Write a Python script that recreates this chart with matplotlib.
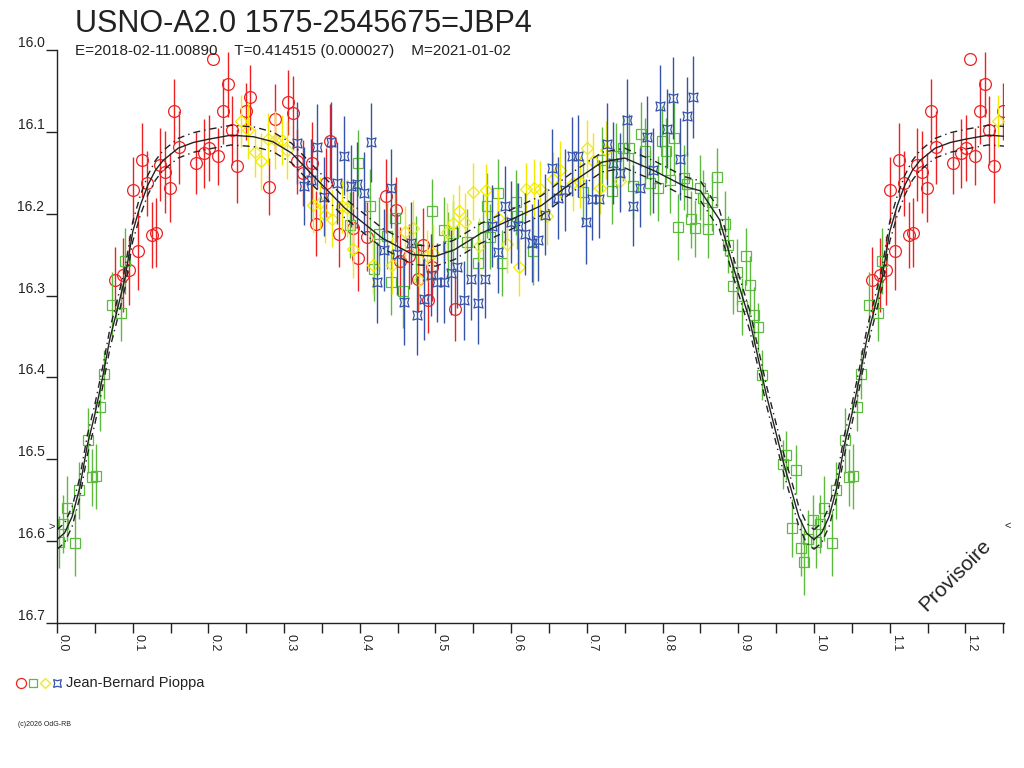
import numpy as np
import matplotlib
matplotlib.use("Agg")
import matplotlib.pyplot as plt
from matplotlib.path import Path
from matplotlib.lines import Line2D

plt.rcParams['font.family'] = ['Liberation Sans', 'DejaVu Sans']

# --- data (phase, magnitude, error) ---
red_phase = [0.0766, 0.0876, 0.0955, 0.1066, 0.1008, 0.1123, 0.1185, 0.1250, 0.1308, 0.1360,
             0.1427, 0.1490, 0.1550, 0.1616, 0.1832, 0.1942, 0.2008, 0.2131, 0.2065, 0.2189,
             0.2255, 0.2308, 0.2374, 0.2493, 0.2550, 0.2805, 0.2880, 0.3056, 0.3122, 0.3166,
             0.3245, 0.3364, 0.3421, 0.3553, 0.3606, 0.3730, 0.3905, 0.3972, 0.4099, 0.4346,
             0.4474, 0.4531, 0.4650, 0.4773, 0.4840, 0.4896, 0.4958, 0.5258]
red_mag = [16.281, 16.275, 16.269, 16.245, 16.171, 16.134, 16.163, 16.226, 16.223, 16.140,
           16.149, 16.168, 16.075, 16.119, 16.138, 16.126, 16.120, 16.130, 16.011, 16.075,
           16.042, 16.098, 16.142, 16.075, 16.058, 16.167, 16.084, 16.064, 16.077, 16.136,
           16.150, 16.138, 16.212, 16.162, 16.111, 16.225, 16.217, 16.254, 16.228, 16.178,
           16.195, 16.258, 16.252, 16.280, 16.238, 16.306, 16.265, 16.316]
red_err = [0.040, 0.045, 0.042, 0.048, 0.040, 0.045, 0.040, 0.040, 0.042, 0.045,
           0.050, 0.042, 0.040, 0.045, 0.038, 0.042, 0.040, 0.035, 0.000, 0.040,
           0.040, 0.042, 0.045, 0.035, 0.040, 0.035, 0.042, 0.040, 0.045, 0.040,
           0.040, 0.050, 0.040, 0.042, 0.045, 0.040, 0.045, 0.040, 0.042, 0.045,
           0.040, 0.042, 0.040, 0.040, 0.045, 0.040, 0.042, 0.040]

green_phase = [0.0030, 0.0075, 0.0128, 0.0238, 0.0290, 0.0405, 0.0458, 0.0511, 0.0568, 0.0620,
               0.0731, 0.0841, 0.0898, 0.3970, 0.4135, 0.3870, 0.4465, 0.4958, 0.4258, 0.4364,
               0.4742, 0.4188, 0.4412, 0.4575, 0.5116, 0.5235, 0.5170, 0.5412, 0.5566, 0.5632,
               0.5676, 0.5830, 0.5875, 0.6063, 0.6080, 0.6284, 0.5720, 0.6953, 0.7327, 0.7195,
               0.7385, 0.7480, 0.7560, 0.7613, 0.7715, 0.7768, 0.7834, 0.7935, 0.7988, 0.8045,
               0.8098, 0.8155, 0.8283, 0.8327, 0.8375, 0.8428, 0.8208, 0.8494, 0.8538, 0.8596,
               0.8649, 0.8715, 0.8825, 0.8868, 0.9102, 0.8934, 0.8979, 0.9045, 0.9155, 0.9207,
               0.9256, 0.9309, 0.9630, 0.9586, 0.9758, 0.9705, 0.9824, 0.9868, 0.9925, 0.9983]
green_mag = [16.601, 16.579, 16.560, 16.602, 16.538, 16.477, 16.522, 16.521, 16.436, 16.396,
             16.311, 16.321, 16.258, 16.138, 16.190, 16.214, 16.205, 16.197, 16.225, 16.227,
             16.243, 16.267, 16.284, 16.295, 16.220, 16.224, 16.240, 16.234, 16.260, 16.216,
             16.190, 16.175, 16.260, 16.186, 16.203, 16.245, 16.228, 16.173, 16.172, 16.134,
             16.129, 16.120, 16.120, 16.166, 16.103, 16.123, 16.162, 16.169, 16.111, 16.123,
             16.159, 16.108, 16.156, 16.164, 16.207, 16.218, 16.216, 16.168, 16.181, 16.219,
             16.186, 16.155, 16.212, 16.238, 16.252, 16.288, 16.271, 16.313, 16.287, 16.324,
             16.339, 16.397, 16.495, 16.506, 16.513, 16.584, 16.608, 16.626, 16.597, 16.574]
green_err = [0.032, 0.035, 0.040, 0.040, 0.035, 0.040, 0.035, 0.040, 0.030, 0.030,
             0.040, 0.035, 0.040, 0.040, 0.045, 0.040, 0.040, 0.040, 0.045, 0.040,
             0.040, 0.040, 0.040, 0.045, 0.040, 0.040, 0.042, 0.040, 0.042, 0.040,
             0.040, 0.042, 0.040, 0.040, 0.040, 0.042, 0.040, 0.040, 0.040, 0.040,
             0.040, 0.040, 0.042, 0.040, 0.040, 0.040, 0.040, 0.040, 0.042, 0.040,
             0.040, 0.045, 0.040, 0.040, 0.035, 0.035, 0.040, 0.040, 0.035, 0.035,
             0.035, 0.035, 0.040, 0.035, 0.035, 0.035, 0.040, 0.035, 0.035, 0.035,
             0.030, 0.030, 0.030, 0.030, 0.030, 0.035, 0.035, 0.040, 0.035, 0.030]

yellow_phase = [0.2430, 0.2527, 0.2616, 0.2690, 0.2792, 0.2880, 0.2968, 0.3043, 0.3386, 0.3474,
                0.3540, 0.3629, 0.3760, 0.3827, 0.3906, 0.4170, 0.4421, 0.4597, 0.4699, 0.4787,
                0.4883, 0.4971, 0.5147, 0.5227, 0.5315, 0.5390, 0.5491, 0.5579, 0.5667, 0.5830,
                0.5940, 0.6107, 0.6195, 0.6301, 0.6380, 0.6470, 0.6556, 0.6645, 0.6820, 0.6910,
                0.6998, 0.7085, 0.7173, 0.7253, 0.7437]
yellow_mag = [16.087, 16.098, 16.125, 16.136, 16.109, 16.110, 16.110, 16.122, 16.189, 16.187,
              16.201, 16.206, 16.191, 16.193, 16.243, 16.263, 16.263, 16.222, 16.218, 16.281,
              16.252, 16.248, 16.222, 16.211, 16.197, 16.210, 16.173, 16.240, 16.171, 16.205,
              16.237, 16.265, 16.170, 16.168, 16.170, 16.203, 16.157, 16.146, 16.162, 16.161,
              16.120, 16.136, 16.168, 16.122, 16.160]
yellow_err = [0.032, 0.035, 0.030, 0.035, 0.032, 0.035, 0.030, 0.035, 0.035, 0.032,
              0.035, 0.035, 0.032, 0.035, 0.035, 0.035, 0.035, 0.032, 0.035, 0.035,
              0.032, 0.035, 0.035, 0.035, 0.032, 0.035, 0.035, 0.035, 0.032, 0.035,
              0.035, 0.035, 0.032, 0.035, 0.035, 0.035, 0.032, 0.035, 0.035, 0.032,
              0.035, 0.035, 0.032, 0.035, 0.035]

blue_phase = [0.3175, 0.3263, 0.3351, 0.3439, 0.3527, 0.3615, 0.3703, 0.3791, 0.3880, 0.3967,
              0.4055, 0.4143, 0.4231, 0.4320, 0.4408, 0.4496, 0.4584, 0.4672, 0.4760, 0.4848,
              0.4936, 0.5024, 0.5112, 0.5200, 0.5288, 0.5376, 0.5465, 0.5566, 0.5654, 0.5742,
              0.5830, 0.5918, 0.5993, 0.6094, 0.6182, 0.6270, 0.6358, 0.6447, 0.6535, 0.6622,
              0.6711, 0.6800, 0.6887, 0.6984, 0.7063, 0.7164, 0.7260, 0.7349, 0.7437, 0.7525,
              0.7613, 0.7701, 0.7790, 0.7877, 0.7966, 0.8054, 0.8142, 0.8230, 0.8318, 0.8406]
blue_mag = [16.114, 16.166, 16.159, 16.118, 16.179, 16.113, 16.162, 16.129, 16.166, 16.164,
            16.175, 16.113, 16.284, 16.244, 16.169, 16.249, 16.308, 16.236, 16.324, 16.304,
            16.275, 16.284, 16.284, 16.272, 16.265, 16.306, 16.280, 16.309, 16.280, 16.215,
            16.247, 16.190, 16.210, 16.215, 16.225, 16.236, 16.232, 16.201, 16.144, 16.181,
            16.171, 16.130, 16.129, 16.210, 16.182, 16.182, 16.115, 16.138, 16.150, 16.085,
            16.190, 16.168, 16.106, 16.147, 16.068, 16.096, 16.059, 16.133, 16.081, 16.057]
blue_err = [0.050, 0.048, 0.050, 0.052, 0.048, 0.050, 0.050, 0.048, 0.050, 0.052,
            0.050, 0.048, 0.050, 0.050, 0.048, 0.050, 0.052, 0.050, 0.048, 0.050,
            0.050, 0.048, 0.050, 0.052, 0.050, 0.048, 0.050, 0.050, 0.048, 0.050,
            0.050, 0.048, 0.050, 0.052, 0.050, 0.048, 0.050, 0.050, 0.048, 0.050,
            0.050, 0.048, 0.050, 0.052, 0.050, 0.048, 0.050, 0.050, 0.048, 0.050,
            0.050, 0.048, 0.050, 0.052, 0.050, 0.048, 0.050, 0.050, 0.048, 0.050]

# fitted light curve and its uncertainty band
curve_phase = [0.00, 0.01, 0.02, 0.03, 0.04, 0.05, 0.06, 0.07, 0.08, 0.09, 0.10, 0.11, 0.12,
               0.13, 0.14, 0.16, 0.18, 0.20, 0.23, 0.26, 0.285, 0.31, 0.34, 0.38, 0.43, 0.47,
               0.50, 0.525, 0.56, 0.60, 0.64, 0.68, 0.72, 0.75, 0.79, 0.83, 0.85, 0.875, 0.895,
               0.915, 0.9375, 0.96, 0.98, 0.99, 1.00]
curve_mag = [16.598, 16.590, 16.570, 16.535, 16.483, 16.445, 16.401, 16.352, 16.316, 16.278,
             16.222, 16.190, 16.165, 16.147, 16.135, 16.120, 16.113, 16.109, 16.104, 16.106,
             16.112, 16.126, 16.155, 16.193, 16.230, 16.250, 16.252, 16.244, 16.224, 16.207,
             16.190, 16.162, 16.137, 16.132, 16.148, 16.167, 16.172, 16.207, 16.270, 16.330,
             16.423, 16.505, 16.570, 16.590, 16.598]
band = 0.012

title = "USNO-A2.0 1575-2545675=JBP4"
subtitle = "E=2018-02-11.00890    T=0.414515 (0.000027)    M=2021-01-02"
observer = "Jean-Bernard Pioppa"

W, H = 1024, 768


def fx(px):
    return px / W


def fy(py):
    return 1 - py / H


# blue marker: square with pinched-in sides
s = 0.72
blue_marker = Path([(1, 1), (0, s), (-1, 1), (-s, 0), (-1, -1), (0, -s), (1, -1), (s, 0), (1, 1)],
                   [Path.MOVETO] + [Path.LINETO] * 7 + [Path.CLOSEPOLY])

series = [
    (red_phase, red_mag, red_err, '#ee2222', 'o', 8.5),
    (green_phase, green_mag, green_err, '#5cbb3c', 's', 7),
    (yellow_phase, yellow_mag, yellow_err, '#f2ea00', 'D', 6),
    (blue_phase, blue_mag, blue_err, '#3553a8', blue_marker, 6.5),
]

fig = plt.figure(figsize=(W / 100, H / 100), dpi=100)
ax = fig.add_axes([fx(57), fy(623), fx(1004 - 57), (623 - 50) / H])

for ph, mg, er, col, mk, ms in series:
    ph = np.array(ph)
    mg = np.array(mg)
    er = np.array(er)
    rep = ph < 0.25
    xs = np.concatenate([ph, ph[rep] + 1.0])
    ys = np.concatenate([mg, mg[rep]])
    es = np.concatenate([er, er[rep]])
    ax.errorbar(xs, ys, yerr=es, fmt='none', ecolor=col, elinewidth=1.0, capsize=0)
    ax.plot(xs, ys, linestyle='none', marker=mk, markersize=ms, markerfacecolor='none',
            markeredgecolor=col, markeredgewidth=0.9)

cp = np.array(curve_phase)
cm = np.array(curve_mag)
for off in (0.0, 1.0):
    ax.plot(cp + off, cm, color='#222222', lw=1.0)
    ax.plot(cp + off, cm - band, color='#222222', lw=1.0, linestyle=(0, (5, 3, 1, 3)))
    ax.plot(cp + off, cm + band, color='#222222', lw=1.0, linestyle=(0, (5, 3, 1, 3)))

ax.set_xlim(0, 1.251)
ax.set_ylim(16.7, 16.0)
for sp in ('top', 'right'):
    ax.spines[sp].set_visible(False)
for sp in ('left', 'bottom'):
    ax.spines[sp].set_color('#222222')
    ax.spines[sp].set_linewidth(1.0)

xt = np.round(np.arange(0, 1.21, 0.1), 2)
ax.set_xticks(xt)
ax.set_xticklabels([f"{v:.1f}" for v in xt], rotation=-90, ha='left', va='top', fontsize=9,
                   color='#222222')
ax.set_xticks(np.round(np.arange(0.05, 1.26, 0.1), 2), minor=True)
yt = np.round(np.arange(16.0, 16.71, 0.1), 2)
ax.set_yticks(yt)
ax.set_yticklabels([f"{v:.1f}" for v in yt], fontsize=10, color='#222222')
for lab in ax.get_yticklabels():
    lab.set_va('bottom')
ax.tick_params(axis='both', which='both', direction='out', length=7, width=1.0,
               color='#222222', pad=1)
ax.tick_params(axis='y', length=8, pad=1)

fig.text(fx(75), fy(32), title, fontsize=22, color='#222222', ha='left', va='baseline')
fig.text(fx(75), fy(55), subtitle, fontsize=11, color='#222222', ha='left', va='baseline')
fig.text(fx(955), fy(575), "Provisoire", fontsize=15, rotation=45, color='#222222',
         ha='center', va='center')
fig.text(fx(52), fy(527), ">", fontsize=8, color='#222222', ha='center', va='center')
fig.text(fx(1008), fy(526), "<", fontsize=8, color='#222222', ha='center', va='center')

# legend row under the plot
for i, (ph, mg, er, col, mk, ms) in enumerate(series):
    fig.add_artist(Line2D([fx(21 + 12 * i)], [fy(683)], marker=mk, markersize=ms * 0.85,
                          markerfacecolor='none', markeredgecolor=col, markeredgewidth=0.9,
                          linestyle='none', transform=fig.transFigure))
fig.text(fx(66), fy(683), observer, fontsize=10.5, color='#222222', ha='left', va='center')
fig.text(fx(18), fy(724), "(c)2026 OdG-RB", fontsize=5, color='#222222', ha='left', va='center')

fig.savefig("out.png", dpi=100)
